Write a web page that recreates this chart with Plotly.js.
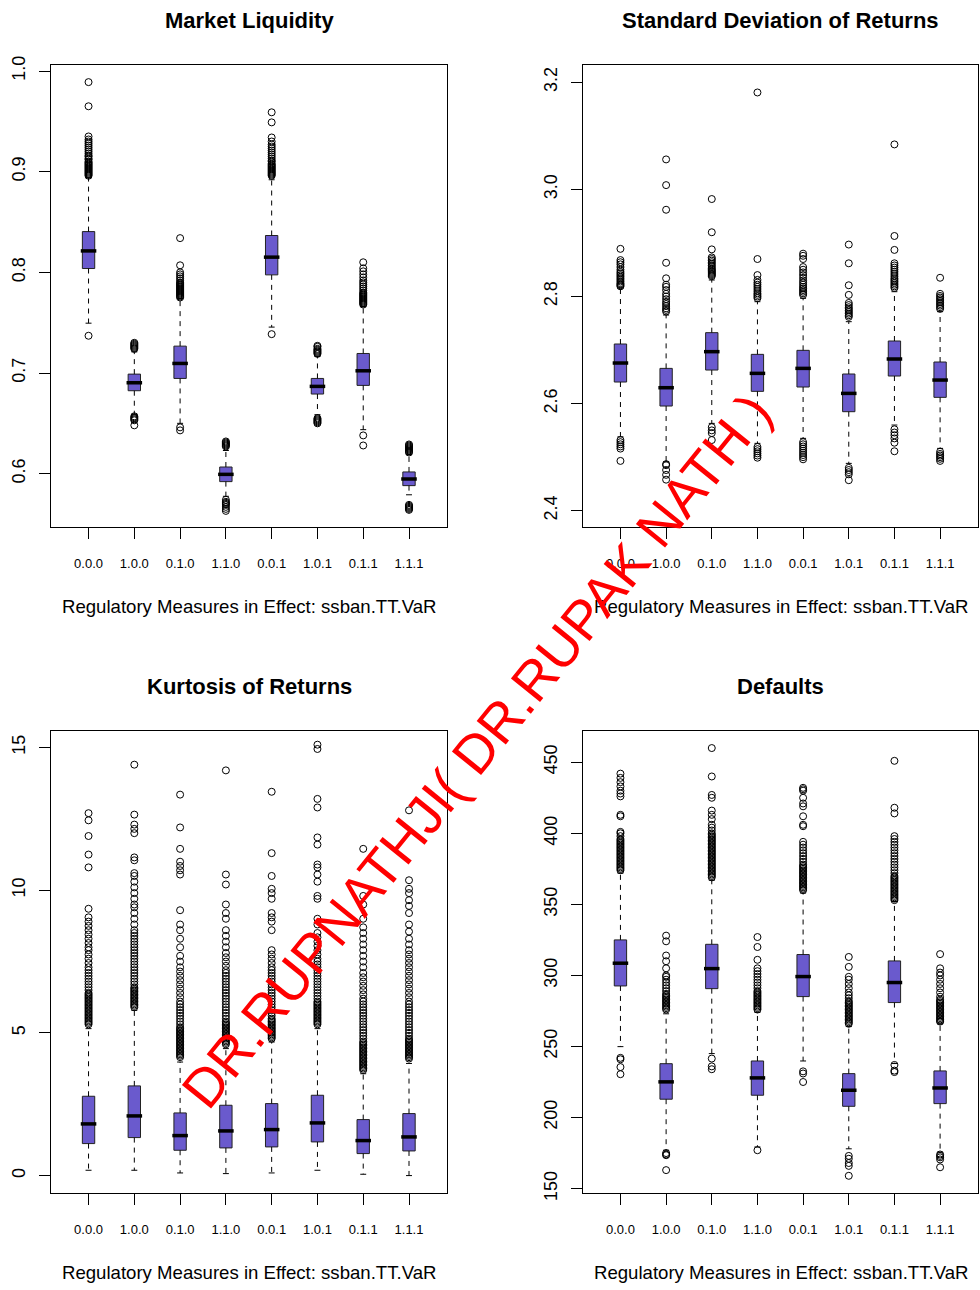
<!DOCTYPE html>
<html>
<head>
<meta charset="utf-8">
<script src="https://cdn.plot.ly/plotly-3.0.1.min.js"></script>
<style>html,body{margin:0;padding:0;background:#fff;}#chart{width:980px;height:1290px;}</style>
</head>
<body>
<div id="chart"></div>
<script>
const categories = ["0.0.0","1.0.0","0.1.0","1.1.0","0.0.1","1.0.1","0.1.1","1.1.1"];
const panelTitles = ["Market Liquidity","Standard Deviation of Returns","Kurtosis of Returns","Defaults"];
const xTitle = "Regulatory Measures in Effect: ssban.TT.VaR";

// Market Liquidity
const liqQ1  = [0.8038, 0.6824, 0.6946, 0.5921, 0.7975, 0.6791, 0.6877, 0.5881];
const liqMed = [0.8213, 0.6903, 0.7095, 0.5993, 0.8151, 0.6867, 0.7022, 0.5947];
const liqQ3  = [0.8405, 0.6989, 0.7267, 0.6066, 0.8366, 0.6946, 0.7194, 0.6017];
const liqLo  = [0.7495, 0.6590, 0.6500, 0.5775, 0.7456, 0.6586, 0.6437, 0.5790];
const liqHi  = [0.8940, 0.7210, 0.7740, 0.6230, 0.8920, 0.7165, 0.7660, 0.6190];
const liqOut = [
  [0.737, 0.896,0.897,0.898,0.899,0.900,0.901,0.902,0.903,0.904,0.905,0.906,0.907,0.908,0.909,0.910,0.912,0.913,0.915,0.916,0.918,0.920,0.922,0.924,0.926,0.928,0.930,0.932,0.935,0.965,0.989],
  [0.648,0.653,0.654,0.655,0.656,0.657, 0.724,0.725,0.726,0.727,0.728,0.729,0.730],
  [0.643,0.646, 0.775,0.776,0.777,0.778,0.779,0.780,0.781,0.782,0.783,0.784,0.785,0.786,0.787,0.788,0.789,0.790,0.792,0.794,0.796,0.798,0.800,0.807,0.834],
  [0.563,0.565,0.567,0.569,0.570,0.571,0.572,0.574, 0.627,0.628,0.629,0.630,0.631,0.632],
  [0.7386, 0.896,0.897,0.898,0.899,0.900,0.901,0.902,0.903,0.904,0.905,0.906,0.907,0.908,0.910,0.911,0.913,0.915,0.917,0.919,0.921,0.923,0.925,0.927,0.930,0.934,0.949,0.959],
  [0.650,0.651,0.652,0.653,0.654,0.655, 0.719,0.720,0.721,0.722,0.723,0.724,0.726,0.727],
  [0.628,0.638, 0.768,0.769,0.770,0.771,0.772,0.773,0.774,0.775,0.776,0.777,0.778,0.779,0.780,0.782,0.784,0.786,0.788,0.790,0.792,0.795,0.798,0.801,0.804,0.810],
  [0.564,0.565,0.566,0.567,0.568,0.569, 0.621,0.622,0.623,0.624,0.625,0.626,0.627,0.628,0.629]
];

// Standard Deviation of Returns
const sdQ1  = [2.6403, 2.5955, 2.6627, 2.6229, 2.6310, 2.5849, 2.6515, 2.6117];
const sdMed = [2.6758, 2.6297, 2.6970, 2.6565, 2.6658, 2.6191, 2.6833, 2.6440];
const sdQ3  = [2.7113, 2.6658, 2.7325, 2.6920, 2.6995, 2.6553, 2.7169, 2.6777];
const sdLo  = [2.5380, 2.4915, 2.5631, 2.5258, 2.5351, 2.4884, 2.5600, 2.5164];
const sdHi  = [2.8160, 2.7654, 2.8308, 2.7903, 2.7966, 2.7530, 2.8090, 2.7717];
const sdOut = [
  [2.493,2.516,2.520,2.524,2.528,2.532, 2.819,2.821,2.823,2.825,2.828,2.831,2.834,2.837,2.840,2.843,2.846,2.850,2.855,2.860,2.864,2.868,2.889],
  [2.458,2.467,2.476,2.485,2.487, 2.772,2.775,2.778,2.782,2.786,2.790,2.795,2.800,2.805,2.812,2.818,2.822,2.834,2.863,2.962,3.008,3.056],
  [2.532,2.545,2.550,2.556, 2.838,2.840,2.842,2.844,2.846,2.848,2.850,2.852,2.855,2.858,2.861,2.864,2.867,2.870,2.873,2.888,2.920,2.982],
  [2.499,2.503,2.507,2.511,2.515,2.519, 2.797,2.800,2.803,2.806,2.810,2.814,2.818,2.822,2.826,2.831,2.840,2.870,3.181],
  [2.496,2.500,2.504,2.508,2.512,2.516,2.520,2.524,2.528, 2.803,2.806,2.809,2.812,2.815,2.818,2.822,2.826,2.830,2.835,2.840,2.845,2.850,2.855,2.870,2.876,2.880],
  [2.457,2.468,2.472,2.476,2.480, 2.762,2.765,2.768,2.771,2.774,2.777,2.780,2.784,2.788,2.803,2.821,2.862,2.897],
  [2.511,2.527,2.535,2.541,2.546,2.552, 2.816,2.819,2.822,2.825,2.828,2.831,2.834,2.838,2.842,2.846,2.850,2.854,2.858,2.862,2.887,2.913,3.084],
  [2.493,2.497,2.500,2.503,2.506,2.510, 2.777,2.780,2.783,2.786,2.789,2.792,2.795,2.798,2.801,2.805,2.835]
];

// Kurtosis of Returns
const kurQ1  = [1.1215, 1.332, 0.888, 0.970, 1.005, 1.180, 0.771, 0.864];
const kurMed = [1.811, 2.091, 1.402, 1.565, 1.612, 1.846, 1.227, 1.355];
const kurQ3  = [2.780, 3.143, 2.196, 2.465, 2.523, 2.815, 1.963, 2.173];
const kurLo  = [0.187, 0.187, 0.093, 0.070, 0.093, 0.187, 0.047, 0.000];
const kurHi  = [5.15, 5.79, 3.98, 4.45, 4.68, 5.15, 3.57, 3.93];
const kurOut = [
  [5.3,5.35,5.4,5.45,5.5,5.55,5.6,5.65,5.7,5.75,5.8,5.85,5.9,5.95,6.0,6.05,6.1,6.15,6.2,6.25,6.3,6.35,6.4,6.5,6.6,6.7,6.8,6.9,7.0,7.1,7.2,7.3,7.45,7.6,7.75,7.9,8.0,8.15,8.3,8.45,8.6,8.75,8.9,9.05,9.35,10.8,11.25,11.9,12.45,12.7],
  [5.9,5.95,6.0,6.05,6.1,6.15,6.2,6.25,6.3,6.35,6.4,6.45,6.5,6.55,6.6,6.7,6.8,6.9,7.0,7.1,7.2,7.3,7.4,7.5,7.6,7.7,7.8,7.9,8.0,8.1,8.2,8.3,8.4,8.5,8.6,8.8,9.0,9.2,9.4,9.5,9.7,9.9,10.1,10.3,10.5,10.6,11.05,11.15,12.0,12.15,12.3,12.65,14.4],
  [4.15,4.2,4.25,4.3,4.35,4.4,4.45,4.5,4.55,4.6,4.65,4.7,4.75,4.8,4.85,4.9,4.95,5.0,5.05,5.1,5.15,5.2,5.3,5.4,5.5,5.6,5.7,5.8,5.9,6.0,6.1,6.25,6.4,6.55,6.7,6.85,7.0,7.15,7.3,7.5,7.7,8.0,8.3,8.6,8.8,9.3,10.55,10.7,10.85,11.0,11.45,12.2,13.35],
  [4.6,4.65,4.7,4.75,4.8,4.85,4.9,4.95,5.0,5.05,5.1,5.15,5.2,5.25,5.3,5.35,5.4,5.5,5.6,5.7,5.8,5.9,6.0,6.1,6.2,6.3,6.4,6.5,6.6,6.7,6.8,6.9,7.0,7.1,7.2,7.35,7.5,7.65,7.8,8.0,8.2,8.4,8.6,9.0,9.2,9.5,10.2,10.55,14.2],
  [4.8,4.85,4.9,4.95,5.0,5.05,5.1,5.15,5.2,5.25,5.3,5.35,5.4,5.45,5.5,5.6,5.7,5.8,5.9,6.0,6.1,6.2,6.3,6.4,6.5,6.6,6.7,6.8,6.9,7.0,7.1,7.2,7.3,7.45,7.6,7.75,7.9,8.6,8.9,9.05,9.2,9.7,9.9,10.05,10.5,11.3,13.45],
  [5.3,5.35,5.4,5.45,5.5,5.55,5.6,5.65,5.7,5.75,5.8,5.85,5.9,5.95,6.0,6.05,6.1,6.2,6.3,6.4,6.5,6.6,6.7,6.8,6.9,7.0,7.1,7.2,7.3,7.4,7.5,7.6,7.75,7.9,8.05,8.2,8.35,8.5,8.8,9.0,9.7,9.8,10.3,10.55,10.8,10.9,11.6,11.85,12.9,13.2,14.95,15.1],
  [3.7,3.75,3.8,3.85,3.9,3.95,4.0,4.05,4.1,4.15,4.2,4.25,4.3,4.35,4.4,4.45,4.5,4.55,4.6,4.65,4.7,4.8,4.9,5.0,5.1,5.2,5.3,5.4,5.5,5.6,5.7,5.8,5.9,6.0,6.1,6.2,6.35,6.5,6.65,6.8,6.95,7.1,7.3,7.5,7.7,7.9,8.1,8.3,8.5,8.7,9.0,9.5,9.8,11.45],
  [4.1,4.15,4.2,4.25,4.3,4.35,4.4,4.45,4.5,4.55,4.6,4.65,4.7,4.75,4.8,4.9,5.0,5.1,5.2,5.3,5.4,5.5,5.6,5.7,5.8,5.9,6.0,6.1,6.25,6.4,6.55,6.7,6.85,7.0,7.15,7.3,7.45,7.6,7.75,7.9,8.1,8.3,8.55,8.8,9.2,9.45,9.65,9.9,10.05,10.35,12.8]
];

// Defaults
const defQ1  = [292.6, 212.9, 290.7, 215.7, 285.1, 207.9, 280.9, 209.8];
const defMed = [308.6, 225.1, 304.8, 227.9, 299.2, 219.2, 295.0, 220.8];
const defQ3  = [325.0, 237.9, 321.9, 239.8, 314.7, 230.9, 310.2, 232.8];
const defLo  = [249.9, 177.0, 245.0, 179.3, 239.8, 178.0, 238.0, 175.6];
const defHi  = [372.0, 273.0, 367.0, 274.0, 358.0, 264.0, 352.0, 266.0];
const defOut = [
  [230.5,235.5,241,242, 374,375,376,377,378,379,380,381,382,383,384,385,386,387,388,389,390,391,392,393,394,395,396,398,400,401,412,413,426,428,430,433,436,439,442],
  [163,173.5,174,175, 276,277,278,279,280,281,282,283,284,285,286,287,289,291,293,295,297,299,300,305,310,314,324,328],
  [234,236,241.5, 369,370,371,372,373,374,375,376,377,378,379,380,381,382,383,384,385,386,387,388,389,390,391,392,393,394,395,396,397,398,399,400,402,404,406,410,413,416,425,427,440,460],
  [177, 276,277,278,279,280,281,282,283,284,285,286,287,288,289,291,293,295,297,299,301,303,305,311,320,327],
  [225,231,232.5, 360,361,362,363,364,365,366,367,368,369,370,371,372,373,374,375,376,377,378,380,382,384,386,388,390,392,394,405,406,412,419,421,425,430,431,432],
  [159,166,168,171,173, 266,267,268,269,270,271,272,273,274,275,276,277,278,279,280,281,282,284,286,288,291,294,297,299,306,313],
  [232,233,237, 353,354,355,356,357,358,359,360,361,362,363,364,365,366,367,368,369,370,372,374,376,378,380,382,384,386,388,390,392,394,396,398,414,418,451],
  [165,170.5,172,173,174, 267.5,268,269,270,271,272,273,274,275,276,277,278,279,280,281,282,283,285,288,291,294,297,300,302,305,315]
];

const yTickVals = [[0.6,0.7,0.8,0.9,1.0],[2.4,2.6,2.8,3.0,3.2],[0,5,10,15],[150,200,250,300,350,400,450]];
const yTickText = [["0.6","0.7","0.8","0.9","1.0"],["2.4","2.6","2.8","3.0","3.2"],["0","5","10","15"],["150","200","250","300","350","400","450"]];

// ---- style / layout constants ----
const FONT = "Liberation Sans, Arial, Helvetica, sans-serif";
const BOXFILL = "#6A5ACD";
const BOXW = 0.27, STAPLE = 0.065, MEDW = 0.17;
const W = 980, H = 1290;
const frames = [ // pixel boxes [left, right, top, bottom]
  [51, 447, 65, 527], [583, 978, 65, 527], [51, 447, 731, 1193], [583, 978, 731, 1193]
];
const yRanges = [[0.547, 1.006], [2.3696, 3.2323], [-0.61, 15.58], [146.9, 472.0]];
const xRange = [-0.82, 7.83];

const panels = [
  {q1: liqQ1, med: liqMed, q3: liqQ3, lo: liqLo, hi: liqHi, out: liqOut},
  {q1: sdQ1, med: sdMed, q3: sdQ3, lo: sdLo, hi: sdHi, out: sdOut},
  {q1: kurQ1, med: kurMed, q3: kurQ3, lo: kurLo, hi: kurHi, out: kurOut},
  {q1: defQ1, med: defMed, q3: defQ3, lo: defLo, hi: defHi, out: defOut}
];

const traces = [];
const layout = {
  width: W, height: H, margin: {l: 0, r: 0, t: 0, b: 0},
  paper_bgcolor: "#fff", plot_bgcolor: "#fff", showlegend: false,
  font: {family: FONT, color: "#000"}, annotations: []
};

panels.forEach((p, k) => {
  const sfx = k === 0 ? "" : String(k + 1);
  const xa = "x" + sfx, ya = "y" + sfx;
  const idx = categories.map((c, i) => i);
  const wx = [], wy = [], sx = [], sy = [], mx = [], my = [], ox = [], oy = [];
  idx.forEach(i => {
    wx.push(i, i, null, i, i, null);
    wy.push(p.q3[i], p.hi[i], null, p.q1[i], p.lo[i], null);
    sx.push(i - STAPLE, i + STAPLE, null, i - STAPLE, i + STAPLE, null);
    sy.push(p.hi[i], p.hi[i], null, p.lo[i], p.lo[i], null);
    mx.push(i - MEDW, i + MEDW, null);
    my.push(p.med[i], p.med[i], null);
    p.out[i].forEach(v => { ox.push(i); oy.push(v); });
  });
  traces.push({type: "scatter", mode: "lines", x: wx, y: wy, xaxis: xa, yaxis: ya,
    line: {color: "#000", width: 1, dash: "5px,5px"}, hoverinfo: "skip", connectgaps: false});
  traces.push({type: "scatter", mode: "lines", x: sx, y: sy, xaxis: xa, yaxis: ya,
    line: {color: "#000", width: 1}, hoverinfo: "skip"});
  traces.push({type: "box", x: idx, q1: p.q1, median: p.med, q3: p.q3,
    lowerfence: p.q1, upperfence: p.q3, width: BOXW, whiskerwidth: 0,
    fillcolor: BOXFILL, line: {color: "#222", width: 1}, boxpoints: false,
    xaxis: xa, yaxis: ya, hoverinfo: "skip"});
  traces.push({type: "scatter", mode: "lines", x: mx, y: my, xaxis: xa, yaxis: ya,
    line: {color: "#000", width: 3.5}, hoverinfo: "skip"});
  traces.push({type: "scatter", mode: "markers", x: ox, y: oy, xaxis: xa, yaxis: ya,
    marker: {symbol: "circle-open", size: 7, color: "#000", line: {width: 1, color: "#000"}},
    hoverinfo: "skip"});

  const f = frames[k];
  const common = {showline: true, mirror: true, linecolor: "#000", linewidth: 1,
    ticks: "outside", ticklen: 11, tickwidth: 1, tickcolor: "#000",
    showgrid: false, zeroline: false, fixedrange: true};
  layout["xaxis" + sfx] = Object.assign({}, common, {
    domain: [f[0] / W, f[1] / W], anchor: ya, range: xRange,
    tickmode: "array", tickvals: idx, ticktext: categories,
    tickfont: {family: FONT, size: 13, color: "#000"}, ticklabelstandoff: 13
  });
  layout["yaxis" + sfx] = Object.assign({}, common, {
    domain: [1 - f[3] / H, 1 - f[2] / H], anchor: xa, range: yRanges[k],
    tickmode: "array", tickvals: yTickVals[k], ticktext: yTickText[k], tickangle: -90,
    tickfont: {family: FONT, size: 18, color: "#000"}, ticklabelstandoff: 7
  });
  const cx = (f[0] + f[1]) / 2 / W;
  layout.annotations.push({text: "<b>" + panelTitles[k] + "</b>", xref: "paper", yref: "paper",
    x: cx, y: 1 - (f[2] - 45) / H, xanchor: "center", yanchor: "middle", showarrow: false,
    font: {family: FONT, size: 22, color: "#000"}});
  layout.annotations.push({text: xTitle, xref: "paper", yref: "paper",
    x: cx, y: 1 - (f[3] + 79) / H, xanchor: "center", yanchor: "middle", showarrow: false,
    font: {family: FONT, size: 18.6, color: "#000"}});
});

layout.annotations.push({text: "DR.RUPNATHJI( DR.RUPAK NATH )", xref: "paper", yref: "paper",
  x: 476 / W, y: 1 - 751 / H, xanchor: "center", yanchor: "middle", showarrow: false,
  textangle: -51, font: {family: FONT, size: 54.5, color: "#FF0000"}});

Plotly.newPlot("chart", traces, layout, {staticPlot: true, displayModeBar: false});
</script>
</body>
</html>
